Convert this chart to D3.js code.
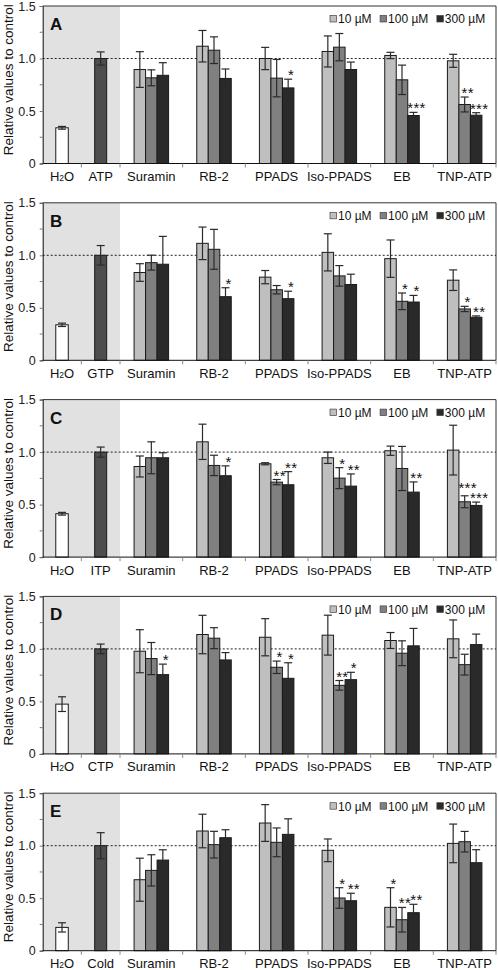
<!DOCTYPE html>
<html><head><meta charset="utf-8">
<script src="https://cdn.jsdelivr.net/npm/d3@7"></script>
<style>body{margin:0;background:#fff}svg{display:block}</style>
</head><body>
<svg id="c" width="498" height="970"></svg>
<script>
const panelLetters = ["A","B","C","D","E"];
const controlNames = ["ATP","GTP","ITP","CTP","Cold"];
const drugs = ["Suramin","RB-2","PPADS","Iso-PPADS","EB","TNP-ATP"];
const concentrations = ["10 µM","100 µM","300 µM"];
const yTicks = [0, 0.5, 1.0, 1.5];
const yMinorTicks = [0.25, 0.75, 1.25];
const waterValues = [0.34, 0.338, 0.413, 0.474, 0.222];
const waterErrors = [0.013, 0.016, 0.013, 0.07, 0.044];
const controlValues = [1, 1, 1, 1, 1];
const controlErrors = [0.063, 0.093, 0.048, 0.046, 0.124];

const valuesA = [[0.895,0.816,0.84],[1.117,1.079,0.81],[1.0,0.813,0.72],[1.067,1.108,0.895],[1.029,0.797,0.457],[0.978,0.562,0.46]];
const errorsA = [[0.17,0.076,0.12],[0.15,0.127,0.09],[0.106,0.178,0.083],[0.148,0.13,0.071],[0.03,0.14,0.03],[0.062,0.071,0.024]];
const starsA  = [["","",""],["","",""],["","","*"],["","",""],["","","***"],["","**","***"]];

const valuesB = [[0.836,0.93,0.915],[1.114,1.057,0.606],[0.792,0.672,0.587],[1.028,0.804,0.722],[0.968,0.562,0.555],[0.763,0.489,0.41]];
const errorsB = [[0.084,0.071,0.265],[0.155,0.19,0.085],[0.063,0.04,0.071],[0.177,0.098,0.098],[0.178,0.079,0.063],[0.098,0.025,0.013]];
const starsB  = [["","",""],["","","*"],["","","*"],["","",""],["","*","*"],["","*","**"]];

const valuesC = [[0.863,0.946,0.946],[1.098,0.873,0.775],[0.889,0.714,0.689],[0.946,0.752,0.676],[1.013,0.844,0.619],[1.019,0.527,0.492]];
const errorsC = [[0.1,0.152,0.048],[0.168,0.097,0.094],[0.01,0.025,0.125],[0.054,0.1,0.116],[0.044,0.21,0.097],[0.237,0.057,0.032]];
const starsC  = [["","",""],["","","*"],["","**","**"],["","*","**"],["","","**"],["","***","***"]];

const valuesD = [[0.978,0.908,0.755],[1.137,1.102,0.895],[1.111,0.825,0.72],[1.131,0.653,0.707],[1.08,0.959,1.029],[1.096,0.85,1.041]];
const errorsD = [[0.205,0.153,0.1],[0.183,0.1,0.07],[0.177,0.059,0.148],[0.19,0.046,0.07],[0.076,0.118,0.166],[0.18,0.099,0.1]];
const starsD  = [["","","*"],["","",""],["","*","*"],["","**","*"],["","",""],["","",""]];

const valuesE = [[0.676,0.765,0.863],[1.14,1.01,1.076],[1.216,1.032,1.108],[0.956,0.502,0.476],[0.413,0.295,0.362],[1.022,1.038,0.838]];
const errorsE = [[0.205,0.149,0.098],[0.16,0.127,0.076],[0.175,0.137,0.148],[0.108,0.098,0.071],[0.187,0.117,0.08],[0.184,0.098,0.124]];
const starsE  = [["","",""],["","",""],["","",""],["","*","**"],["*","**","**"],["","",""]];

const panelValues = [valuesA, valuesB, valuesC, valuesD, valuesE];
const panelErrors = [errorsA, errorsB, errorsC, errorsD, errorsE];
const panelStars = [starsA, starsB, starsC, starsD, starsE];

const FONT = "'Liberation Sans', Arial, Helvetica, sans-serif";
const concColors = ["#bfbfbf", "#808080", "#2a2a2a"];
const svg = d3.select("#c");

const left = 42.7, ctrlEnd = 120, right = 496;
const panelH = 157.5, firstTop = 6, step = 196.8;

const xCtrl = d3.scaleBand().range([left, ctrlEnd]);
const xDrug = d3.scaleBand().domain(drugs).range([ctrlEnd, right]);
const xConc = d3.scaleBand().domain(concentrations).range([-17.25, 17.25]);

panelLetters.forEach((letter, p) => {
  const top = firstTop + p * step;
  const bottom = top + panelH;
  const y = d3.scaleLinear().domain([0, 1.5]).range([bottom, top]);
  const g = svg.append("g");
  xCtrl.domain(["H2O", controlNames[p]]);

  g.append("rect").attr("x", left).attr("y", top).attr("width", ctrlEnd - left).attr("height", panelH).attr("fill", "#e1e1e1");

  g.append("line").attr("x1", left).attr("x2", right).attr("y1", top).attr("y2", top).attr("stroke", "#333").attr("stroke-width", 1);
  g.append("line").attr("x1", right).attr("x2", right).attr("y1", top).attr("y2", bottom).attr("stroke", "#333").attr("stroke-width", 1);

  g.append("line").attr("x1", left).attr("x2", right).attr("y1", y(1)).attr("y2", y(1))
    .attr("stroke", "#222").attr("stroke-dasharray", "2,2").attr("stroke-width", 1);

  function bar(cx, w, v, e, fill, stars, lift) {
    g.append("rect").attr("x", cx - w / 2).attr("y", y(v)).attr("width", w).attr("height", y(0) - y(v))
      .attr("fill", fill).attr("stroke", "#1a1a1a").attr("stroke-width", 1);
    const ey1 = y(v + e), ey2 = y(v - e);
    g.append("line").attr("x1", cx).attr("x2", cx).attr("y1", ey1).attr("y2", ey2).attr("stroke", "#2a2a2a").attr("stroke-width", 1.2);
    [ey1, ey2].forEach(yy => g.append("line").attr("x1", cx - 4).attr("x2", cx + 4).attr("y1", yy).attr("y2", yy).attr("stroke", "#2a2a2a").attr("stroke-width", 1.2));
    if (stars) {
      g.append("text").attr("x", cx + 3).attr("y", ey1 + 1 - (lift || 0)).attr("text-anchor", "middle")
        .attr("font-family", FONT).attr("font-size", 15).attr("letter-spacing", 0.3).attr("fill", "#111").text(stars);
    }
  }

  bar(xCtrl("H2O") + xCtrl.bandwidth() / 2, 12.5, waterValues[p], waterErrors[p], "#ffffff", "");
  bar(xCtrl(controlNames[p]) + xCtrl.bandwidth() / 2, 12, controlValues[p], controlErrors[p], "#4d4d4d", "");

  drugs.forEach((d, i) => {
    const c = xDrug(d) + xDrug.bandwidth() / 2;
    concentrations.forEach((cc, j) => {
      const s = panelStars[p][i][j];
      // lift a star label when the neighbouring bar to its right also carries one (stacked like the original)
      const next = j < 2 ? panelStars[p][i][j + 1] : "";
      const lift = (s && next && s.length >= 3) ? 4 : 0;
      bar(c + xConc(cc) + xConc.bandwidth() / 2, xConc.bandwidth(), panelValues[p][i][j], panelErrors[p][i][j], concColors[j], s, lift);
    });
  });

  const ya = d3.axisLeft(y).tickValues(yTicks).tickSize(3).tickPadding(4).tickFormat(d => d === 0 ? "0" : d3.format(".1f")(d));
  const yg = g.append("g").attr("transform", `translate(${left},0)`).call(ya);
  yg.select(".domain").attr("stroke", "#111");
  yg.selectAll(".tick line").attr("stroke", "#777");
  yg.selectAll("text").attr("font-family", FONT).attr("font-size", 12.5).attr("fill", "#222");
  yMinorTicks.forEach(t => g.append("line").attr("x1", left - 3).attr("x2", left).attr("y1", y(t)).attr("y2", y(t)).attr("stroke", "#777"));

  g.append("line").attr("x1", left).attr("x2", right).attr("y1", bottom).attr("y2", bottom).attr("stroke", "#111");
  const bounds = [xCtrl("H2O") + xCtrl.bandwidth(), ctrlEnd].concat(drugs.map(d => xDrug(d) + xDrug.bandwidth()));
  bounds.forEach(bx => g.append("line").attr("x1", bx).attr("x2", bx).attr("y1", bottom).attr("y2", bottom + 4).attr("stroke", "#888"));

  const labY = bottom + 17.5;
  const h2o = g.append("text").attr("x", xCtrl("H2O") + xCtrl.bandwidth() / 2).attr("y", labY).attr("text-anchor", "middle")
    .attr("font-family", FONT).attr("font-size", 13).attr("fill", "#111");
  h2o.append("tspan").text("H");
  h2o.append("tspan").attr("font-size", 8.5).text("2");
  h2o.append("tspan").text("O");
  g.append("text").attr("x", xCtrl(controlNames[p]) + xCtrl.bandwidth() / 2).attr("y", labY).attr("text-anchor", "middle")
    .attr("font-family", FONT).attr("font-size", 13).attr("fill", "#111").text(controlNames[p]);
  drugs.forEach(d => g.append("text").attr("x", xDrug(d) + xDrug.bandwidth() / 2).attr("y", labY).attr("text-anchor", "middle")
    .attr("font-family", FONT).attr("font-size", 13).attr("fill", "#111").text(d));

  g.append("text").attr("transform", `translate(12.5,${top + panelH / 2 - 5}) rotate(-90)`).attr("text-anchor", "middle")
    .attr("font-family", FONT).attr("font-size", 13.5).attr("fill", "#111").text("Relative values to control");

  g.append("text").attr("x", 50).attr("y", top + 24).attr("font-family", FONT).attr("font-weight", "bold")
    .attr("font-size", 17).attr("fill", "#111").text(letter);

  let lx = 330;
  const ly = top + 13;
  concentrations.forEach((cc, j) => {
    g.append("rect").attr("x", lx).attr("y", ly - 3.5).attr("width", 6.5).attr("height", 6.5).attr("fill", concColors[j]).attr("stroke", "#444").attr("stroke-width", 0.7);
    const t = g.append("text").attr("x", lx + 8).attr("y", ly + 4.3).attr("font-family", FONT).attr("font-size", 12).attr("fill", "#111").text(cc);
    lx = lx + 8 + t.node().getComputedTextLength() + 8.5;
  });
});
</script>
</body></html>
